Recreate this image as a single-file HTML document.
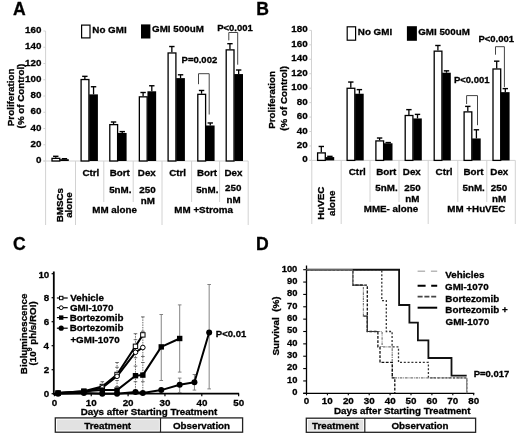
<!DOCTYPE html>
<html><head><meta charset="utf-8"><style>
html,body{margin:0;padding:0;background:#fff;width:520px;height:434px;overflow:hidden}
svg{display:block;will-change:transform}
text{font-family:"Liberation Sans", sans-serif;font-weight:bold;white-space:pre;stroke:#000;stroke-width:0.3px}
</style></head><body>
<svg width="520" height="434" viewBox="0 0 520 434" font-family='"Liberation Sans", sans-serif' font-weight="bold">
<rect x="0" y="0" width="520" height="434" fill="#fff"/>
<text x="12.96" y="14.50" font-size="17.6" fill="#000" >A</text>
<line x1="45.60" y1="31.00" x2="45.60" y2="161.00" stroke="#d2d2d2" stroke-width="1" />
<line x1="43.40" y1="161.00" x2="45.60" y2="161.00" stroke="#d2d2d2" stroke-width="1" />
<text x="35.95" y="163.00" font-size="9.8" fill="#000" >0</text>
<line x1="43.40" y1="144.75" x2="45.60" y2="144.75" stroke="#d2d2d2" stroke-width="1" />
<text x="30.50" y="146.75" font-size="9.8" fill="#000" >20</text>
<line x1="43.40" y1="128.50" x2="45.60" y2="128.50" stroke="#d2d2d2" stroke-width="1" />
<text x="30.50" y="130.50" font-size="9.8" fill="#000" >40</text>
<line x1="43.40" y1="112.25" x2="45.60" y2="112.25" stroke="#d2d2d2" stroke-width="1" />
<text x="30.50" y="114.25" font-size="9.8" fill="#000" >60</text>
<line x1="43.40" y1="96.00" x2="45.60" y2="96.00" stroke="#d2d2d2" stroke-width="1" />
<text x="30.50" y="98.00" font-size="9.8" fill="#000" >80</text>
<line x1="43.40" y1="79.75" x2="45.60" y2="79.75" stroke="#d2d2d2" stroke-width="1" />
<text x="25.05" y="81.75" font-size="9.8" fill="#000" >100</text>
<line x1="43.40" y1="63.50" x2="45.60" y2="63.50" stroke="#d2d2d2" stroke-width="1" />
<text x="25.05" y="65.50" font-size="9.8" fill="#000" >120</text>
<line x1="43.40" y1="47.25" x2="45.60" y2="47.25" stroke="#d2d2d2" stroke-width="1" />
<text x="25.05" y="49.25" font-size="9.8" fill="#000" >140</text>
<line x1="43.40" y1="31.00" x2="45.60" y2="31.00" stroke="#d2d2d2" stroke-width="1" />
<text x="25.05" y="33.00" font-size="9.8" fill="#000" >160</text>
<line x1="43.40" y1="161.00" x2="248.20" y2="161.00" stroke="#d2d2d2" stroke-width="1" />
<rect x="52.00" y="158.35" width="7.80" height="2.65" fill="#fff" stroke="#000" stroke-width="1.3"/>
<rect x="60.10" y="159.21" width="8.70" height="1.79" fill="#000" stroke="none" stroke-width="1"/>
<line x1="55.75" y1="156.29" x2="55.75" y2="157.75" stroke="#000" stroke-width="1.3" />
<line x1="53.05" y1="156.29" x2="58.45" y2="156.29" stroke="#000" stroke-width="1.4" />
<line x1="64.45" y1="158.72" x2="64.45" y2="159.21" stroke="#000" stroke-width="1.3" />
<line x1="61.75" y1="158.72" x2="67.15" y2="158.72" stroke="#000" stroke-width="1.4" />
<rect x="81.10" y="79.54" width="7.80" height="81.46" fill="#fff" stroke="#000" stroke-width="1.3"/>
<rect x="89.20" y="94.38" width="8.70" height="66.62" fill="#000" stroke="none" stroke-width="1"/>
<line x1="84.85" y1="76.34" x2="84.85" y2="78.94" stroke="#000" stroke-width="1.3" />
<line x1="82.15" y1="76.34" x2="87.55" y2="76.34" stroke="#000" stroke-width="1.4" />
<line x1="93.55" y1="86.74" x2="93.55" y2="94.38" stroke="#000" stroke-width="1.3" />
<line x1="90.85" y1="86.74" x2="96.25" y2="86.74" stroke="#000" stroke-width="1.4" />
<rect x="109.80" y="124.63" width="7.80" height="36.37" fill="#fff" stroke="#000" stroke-width="1.3"/>
<rect x="117.90" y="132.97" width="8.70" height="28.03" fill="#000" stroke="none" stroke-width="1"/>
<line x1="113.55" y1="122.00" x2="113.55" y2="124.03" stroke="#000" stroke-width="1.3" />
<line x1="110.85" y1="122.00" x2="116.25" y2="122.00" stroke="#000" stroke-width="1.4" />
<line x1="122.25" y1="131.59" x2="122.25" y2="132.97" stroke="#000" stroke-width="1.3" />
<line x1="119.55" y1="131.59" x2="124.95" y2="131.59" stroke="#000" stroke-width="1.4" />
<rect x="139.35" y="96.84" width="7.80" height="64.16" fill="#fff" stroke="#000" stroke-width="1.3"/>
<rect x="147.45" y="91.29" width="8.70" height="69.71" fill="#000" stroke="none" stroke-width="1"/>
<line x1="143.10" y1="92.51" x2="143.10" y2="96.24" stroke="#000" stroke-width="1.3" />
<line x1="140.40" y1="92.51" x2="145.80" y2="92.51" stroke="#000" stroke-width="1.4" />
<line x1="151.80" y1="85.76" x2="151.80" y2="91.29" stroke="#000" stroke-width="1.3" />
<line x1="149.10" y1="85.76" x2="154.50" y2="85.76" stroke="#000" stroke-width="1.4" />
<rect x="168.10" y="52.97" width="7.80" height="108.03" fill="#fff" stroke="#000" stroke-width="1.3"/>
<rect x="176.20" y="78.12" width="8.70" height="82.88" fill="#000" stroke="none" stroke-width="1"/>
<line x1="171.85" y1="46.52" x2="171.85" y2="52.37" stroke="#000" stroke-width="1.3" />
<line x1="169.15" y1="46.52" x2="174.55" y2="46.52" stroke="#000" stroke-width="1.4" />
<line x1="180.55" y1="74.79" x2="180.55" y2="78.12" stroke="#000" stroke-width="1.3" />
<line x1="177.85" y1="74.79" x2="183.25" y2="74.79" stroke="#000" stroke-width="1.4" />
<rect x="197.80" y="94.32" width="7.80" height="66.68" fill="#fff" stroke="#000" stroke-width="1.3"/>
<rect x="205.90" y="125.49" width="8.70" height="35.51" fill="#000" stroke="none" stroke-width="1"/>
<line x1="201.55" y1="90.47" x2="201.55" y2="93.72" stroke="#000" stroke-width="1.3" />
<line x1="198.85" y1="90.47" x2="204.25" y2="90.47" stroke="#000" stroke-width="1.4" />
<line x1="210.25" y1="122.97" x2="210.25" y2="125.49" stroke="#000" stroke-width="1.3" />
<line x1="207.55" y1="122.97" x2="212.95" y2="122.97" stroke="#000" stroke-width="1.4" />
<rect x="226.20" y="49.88" width="7.80" height="111.12" fill="#fff" stroke="#000" stroke-width="1.3"/>
<rect x="234.30" y="74.06" width="8.70" height="86.94" fill="#000" stroke="none" stroke-width="1"/>
<line x1="229.95" y1="43.67" x2="229.95" y2="49.28" stroke="#000" stroke-width="1.3" />
<line x1="227.25" y1="43.67" x2="232.65" y2="43.67" stroke="#000" stroke-width="1.4" />
<line x1="238.65" y1="70.00" x2="238.65" y2="74.06" stroke="#000" stroke-width="1.3" />
<line x1="235.95" y1="70.00" x2="241.35" y2="70.00" stroke="#000" stroke-width="1.4" />
<line x1="45.60" y1="161.00" x2="45.60" y2="225.00" stroke="#d2d2d2" stroke-width="1" />
<line x1="75.50" y1="161.00" x2="75.50" y2="225.00" stroke="#d2d2d2" stroke-width="1" />
<line x1="103.80" y1="161.00" x2="103.80" y2="202.00" stroke="#d2d2d2" stroke-width="1" />
<line x1="133.20" y1="161.00" x2="133.20" y2="202.00" stroke="#d2d2d2" stroke-width="1" />
<line x1="162.00" y1="161.00" x2="162.00" y2="225.00" stroke="#d2d2d2" stroke-width="1" />
<line x1="191.60" y1="161.00" x2="191.60" y2="202.00" stroke="#d2d2d2" stroke-width="1" />
<line x1="219.60" y1="161.00" x2="219.60" y2="202.00" stroke="#d2d2d2" stroke-width="1" />
<line x1="248.20" y1="161.00" x2="248.20" y2="225.00" stroke="#d2d2d2" stroke-width="1" />
<text x="256.32" y="14.80" font-size="17.6" fill="#000" >B</text>
<line x1="311.50" y1="30.40" x2="311.50" y2="160.40" stroke="#d2d2d2" stroke-width="1" />
<line x1="309.30" y1="160.40" x2="311.50" y2="160.40" stroke="#d2d2d2" stroke-width="1" />
<text x="302.25" y="162.40" font-size="9.8" fill="#000" >0</text>
<line x1="309.30" y1="145.96" x2="311.50" y2="145.96" stroke="#d2d2d2" stroke-width="1" />
<text x="296.80" y="147.96" font-size="9.8" fill="#000" >20</text>
<line x1="309.30" y1="131.51" x2="311.50" y2="131.51" stroke="#d2d2d2" stroke-width="1" />
<text x="296.80" y="133.51" font-size="9.8" fill="#000" >40</text>
<line x1="309.30" y1="117.07" x2="311.50" y2="117.07" stroke="#d2d2d2" stroke-width="1" />
<text x="296.80" y="119.07" font-size="9.8" fill="#000" >60</text>
<line x1="309.30" y1="102.62" x2="311.50" y2="102.62" stroke="#d2d2d2" stroke-width="1" />
<text x="296.80" y="104.62" font-size="9.8" fill="#000" >80</text>
<line x1="309.30" y1="88.18" x2="311.50" y2="88.18" stroke="#d2d2d2" stroke-width="1" />
<text x="291.35" y="90.18" font-size="9.8" fill="#000" >100</text>
<line x1="309.30" y1="73.73" x2="311.50" y2="73.73" stroke="#d2d2d2" stroke-width="1" />
<text x="291.35" y="75.73" font-size="9.8" fill="#000" >120</text>
<line x1="309.30" y1="59.29" x2="311.50" y2="59.29" stroke="#d2d2d2" stroke-width="1" />
<text x="291.35" y="61.29" font-size="9.8" fill="#000" >140</text>
<line x1="309.30" y1="44.84" x2="311.50" y2="44.84" stroke="#d2d2d2" stroke-width="1" />
<text x="291.35" y="46.84" font-size="9.8" fill="#000" >160</text>
<line x1="309.30" y1="30.40" x2="311.50" y2="30.40" stroke="#d2d2d2" stroke-width="1" />
<text x="291.35" y="32.40" font-size="9.8" fill="#000" >180</text>
<line x1="309.30" y1="160.40" x2="515.30" y2="160.40" stroke="#d2d2d2" stroke-width="1" />
<rect x="317.60" y="152.91" width="7.70" height="7.49" fill="#fff" stroke="#000" stroke-width="1.3"/>
<rect x="325.60" y="157.08" width="8.60" height="3.32" fill="#000" stroke="none" stroke-width="1"/>
<line x1="321.30" y1="146.46" x2="321.30" y2="152.31" stroke="#000" stroke-width="1.3" />
<line x1="318.60" y1="146.46" x2="324.00" y2="146.46" stroke="#000" stroke-width="1.4" />
<line x1="329.90" y1="156.36" x2="329.90" y2="157.08" stroke="#000" stroke-width="1.3" />
<line x1="327.20" y1="156.36" x2="332.60" y2="156.36" stroke="#000" stroke-width="1.4" />
<rect x="347.10" y="88.27" width="7.70" height="72.13" fill="#fff" stroke="#000" stroke-width="1.3"/>
<rect x="355.10" y="93.74" width="8.60" height="66.66" fill="#000" stroke="none" stroke-width="1"/>
<line x1="350.80" y1="82.04" x2="350.80" y2="87.67" stroke="#000" stroke-width="1.3" />
<line x1="348.10" y1="82.04" x2="353.50" y2="82.04" stroke="#000" stroke-width="1.4" />
<line x1="359.40" y1="89.62" x2="359.40" y2="93.74" stroke="#000" stroke-width="1.3" />
<line x1="356.70" y1="89.62" x2="362.10" y2="89.62" stroke="#000" stroke-width="1.4" />
<rect x="375.90" y="140.92" width="7.70" height="19.48" fill="#fff" stroke="#000" stroke-width="1.3"/>
<rect x="383.90" y="143.28" width="8.60" height="17.12" fill="#000" stroke="none" stroke-width="1"/>
<line x1="379.60" y1="138.01" x2="379.60" y2="140.32" stroke="#000" stroke-width="1.3" />
<line x1="376.90" y1="138.01" x2="382.30" y2="138.01" stroke="#000" stroke-width="1.4" />
<line x1="388.20" y1="142.56" x2="388.20" y2="143.28" stroke="#000" stroke-width="1.3" />
<line x1="385.50" y1="142.56" x2="390.90" y2="142.56" stroke="#000" stroke-width="1.4" />
<rect x="405.20" y="115.50" width="7.70" height="44.90" fill="#fff" stroke="#000" stroke-width="1.3"/>
<rect x="413.20" y="118.44" width="8.60" height="41.96" fill="#000" stroke="none" stroke-width="1"/>
<line x1="408.90" y1="109.63" x2="408.90" y2="114.90" stroke="#000" stroke-width="1.3" />
<line x1="406.20" y1="109.63" x2="411.60" y2="109.63" stroke="#000" stroke-width="1.4" />
<line x1="417.50" y1="114.39" x2="417.50" y2="118.44" stroke="#000" stroke-width="1.3" />
<line x1="414.80" y1="114.39" x2="420.20" y2="114.39" stroke="#000" stroke-width="1.4" />
<rect x="434.20" y="51.15" width="7.70" height="109.25" fill="#fff" stroke="#000" stroke-width="1.3"/>
<rect x="442.20" y="72.72" width="8.60" height="87.68" fill="#000" stroke="none" stroke-width="1"/>
<line x1="437.90" y1="45.49" x2="437.90" y2="50.55" stroke="#000" stroke-width="1.3" />
<line x1="435.20" y1="45.49" x2="440.60" y2="45.49" stroke="#000" stroke-width="1.4" />
<line x1="446.50" y1="70.84" x2="446.50" y2="72.72" stroke="#000" stroke-width="1.3" />
<line x1="443.80" y1="70.84" x2="449.20" y2="70.84" stroke="#000" stroke-width="1.4" />
<rect x="464.10" y="111.89" width="7.70" height="48.51" fill="#fff" stroke="#000" stroke-width="1.3"/>
<rect x="472.10" y="138.44" width="8.60" height="21.96" fill="#000" stroke="none" stroke-width="1"/>
<line x1="467.80" y1="106.38" x2="467.80" y2="111.29" stroke="#000" stroke-width="1.3" />
<line x1="465.10" y1="106.38" x2="470.50" y2="106.38" stroke="#000" stroke-width="1.4" />
<line x1="476.40" y1="129.78" x2="476.40" y2="138.44" stroke="#000" stroke-width="1.3" />
<line x1="473.70" y1="129.78" x2="479.10" y2="129.78" stroke="#000" stroke-width="1.4" />
<rect x="493.00" y="68.99" width="7.70" height="91.41" fill="#fff" stroke="#000" stroke-width="1.3"/>
<rect x="501.00" y="92.15" width="8.60" height="68.25" fill="#000" stroke="none" stroke-width="1"/>
<line x1="496.70" y1="61.17" x2="496.70" y2="68.39" stroke="#000" stroke-width="1.3" />
<line x1="494.00" y1="61.17" x2="499.40" y2="61.17" stroke="#000" stroke-width="1.4" />
<line x1="505.30" y1="88.61" x2="505.30" y2="92.15" stroke="#000" stroke-width="1.3" />
<line x1="502.60" y1="88.61" x2="508.00" y2="88.61" stroke="#000" stroke-width="1.4" />
<line x1="311.80" y1="160.40" x2="311.80" y2="224.00" stroke="#d2d2d2" stroke-width="1" />
<line x1="341.20" y1="160.40" x2="341.20" y2="224.00" stroke="#d2d2d2" stroke-width="1" />
<line x1="370.00" y1="160.40" x2="370.00" y2="202.00" stroke="#d2d2d2" stroke-width="1" />
<line x1="399.00" y1="160.40" x2="399.00" y2="202.00" stroke="#d2d2d2" stroke-width="1" />
<line x1="428.20" y1="160.40" x2="428.20" y2="224.00" stroke="#d2d2d2" stroke-width="1" />
<line x1="457.80" y1="160.40" x2="457.80" y2="202.00" stroke="#d2d2d2" stroke-width="1" />
<line x1="486.80" y1="160.40" x2="486.80" y2="202.00" stroke="#d2d2d2" stroke-width="1" />
<line x1="515.30" y1="160.40" x2="515.30" y2="224.00" stroke="#d2d2d2" stroke-width="1" />
<rect x="81.60" y="25.10" width="8.40" height="12.80" fill="#fff" stroke="#000" stroke-width="1.2"/>
<text x="92.34" y="32.70" font-size="9.8" fill="#000" >No GMI</text>
<rect x="141.00" y="24.40" width="9.40" height="14.10" fill="#000" stroke="none" stroke-width="1"/>
<text x="152.10" y="32.20" font-size="9.8" fill="#000" >GMI 500uM</text>
<rect x="347.20" y="26.80" width="8.40" height="13.40" fill="#fff" stroke="#000" stroke-width="1.2"/>
<text x="357.84" y="34.70" font-size="9.8" fill="#000" >No GMI</text>
<rect x="406.90" y="26.20" width="10.00" height="14.60" fill="#000" stroke="none" stroke-width="1"/>
<text x="418.20" y="34.70" font-size="9.8" fill="#000" >GMI 500uM</text>
<path d="M198.5,84.2 V73.7 H209.2 V114.5" stroke="#444" stroke-width="1" fill="none" />
<path d="M228.8,40.4 V32.5 H237.7 V64.7" stroke="#444" stroke-width="1" fill="none" />
<path d="M466.6,104.0 V95.6 H477.5 V125.2" stroke="#444" stroke-width="1" fill="none" />
<path d="M495.5,54.7 V46.7 H504.4 V87.1" stroke="#444" stroke-width="1" fill="none" />
<text x="181.56" y="62.90" font-size="9.5" fill="#000" >P=0.002</text>
<text x="217.16" y="31.30" font-size="9.5" fill="#000" >P&lt;0.001</text>
<text x="478.46" y="41.90" font-size="9.5" fill="#000" >P&lt;0.001</text>
<text x="453.96" y="83.40" font-size="9.5" fill="#000" >P&lt;0.001</text>
<text transform="translate(13.60,97.30) rotate(-90)" x="-28.88" y="0" font-size="9.8" fill="#000">Proliferation</text>
<text transform="translate(24.30,96.00) rotate(-90)" x="-32.39" y="0" font-size="9.8" fill="#000">(% of Control)</text>
<text transform="translate(275.00,99.90) rotate(-90)" x="-28.88" y="0" font-size="9.8" fill="#000">Proliferation</text>
<text transform="translate(286.50,98.30) rotate(-90)" x="-32.39" y="0" font-size="9.8" fill="#000">(% of Control)</text>
<text x="82.41" y="176.20" font-size="9.8" fill="#000" >Ctrl</text>
<text x="109.66" y="176.20" font-size="9.8" fill="#000" >Bort</text>
<text x="137.82" y="176.20" font-size="9.8" fill="#000" >Dex</text>
<text x="169.21" y="176.20" font-size="9.8" fill="#000" >Ctrl</text>
<text x="196.96" y="176.20" font-size="9.8" fill="#000" >Bort</text>
<text x="224.52" y="176.20" font-size="9.8" fill="#000" >Dex</text>
<text x="109.13" y="192.60" font-size="9.8" fill="#000" >5nM.</text>
<text x="139.36" y="193.00" font-size="9.8" fill="#000" >250</text>
<text x="140.68" y="203.70" font-size="9.8" fill="#000" >nM</text>
<text x="196.13" y="192.60" font-size="9.8" fill="#000" >5nM.</text>
<text x="225.11" y="191.30" font-size="9.8" fill="#000" >250</text>
<text x="226.43" y="203.00" font-size="9.8" fill="#000" >nM</text>
<text x="92.22" y="213.20" font-size="9.8" fill="#000" >MM alone</text>
<text x="174.37" y="213.30" font-size="9.8" fill="#000" >MM +Stroma</text>
<text transform="translate(62.60,205.00) rotate(-90)" x="-17.28" y="0" font-size="9.8" fill="#000">BMSCs</text>
<text transform="translate(72.30,205.10) rotate(-90)" x="-12.77" y="0" font-size="9.8" fill="#000">alone</text>
<text x="348.81" y="175.30" font-size="9.8" fill="#000" >Ctrl</text>
<text x="376.26" y="175.30" font-size="9.8" fill="#000" >Bort</text>
<text x="402.82" y="175.30" font-size="9.8" fill="#000" >Dex</text>
<text x="435.61" y="175.30" font-size="9.8" fill="#000" >Ctrl</text>
<text x="463.46" y="175.30" font-size="9.8" fill="#000" >Bort</text>
<text x="490.32" y="175.30" font-size="9.8" fill="#000" >Dex</text>
<text x="375.33" y="190.90" font-size="9.8" fill="#000" >5nM.</text>
<text x="404.26" y="190.90" font-size="9.8" fill="#000" >250</text>
<text x="405.33" y="202.20" font-size="9.8" fill="#000" >nM</text>
<text x="462.53" y="190.90" font-size="9.8" fill="#000" >5nM.</text>
<text x="490.76" y="190.90" font-size="9.8" fill="#000" >250</text>
<text x="491.93" y="202.20" font-size="9.8" fill="#000" >nM</text>
<text x="363.72" y="212.00" font-size="9.8" fill="#000" >MME- alone</text>
<text x="447.31" y="212.00" font-size="9.8" fill="#000" >MM +HuVEC</text>
<text transform="translate(323.70,203.00) rotate(-90)" x="-16.80" y="0" font-size="9.8" fill="#000">HuVEC</text>
<text transform="translate(335.20,203.30) rotate(-90)" x="-12.77" y="0" font-size="9.8" fill="#000">alone</text>
<text x="13.08" y="250.30" font-size="17.6" fill="#000" >C</text>
<line x1="53.80" y1="271.50" x2="53.80" y2="394.70" stroke="#000" stroke-width="1.8" />
<line x1="53.00" y1="393.70" x2="239.15" y2="393.70" stroke="#000" stroke-width="1.8" />
<line x1="51.60" y1="393.70" x2="53.80" y2="393.70" stroke="#000" stroke-width="1.2" />
<text x="43.85" y="397.10" font-size="9.8" fill="#000" >0</text>
<line x1="51.60" y1="369.70" x2="53.80" y2="369.70" stroke="#000" stroke-width="1.2" />
<text x="43.84" y="373.10" font-size="9.8" fill="#000" >2</text>
<line x1="51.60" y1="345.70" x2="53.80" y2="345.70" stroke="#000" stroke-width="1.2" />
<text x="43.50" y="349.10" font-size="9.8" fill="#000" >4</text>
<line x1="51.60" y1="321.70" x2="53.80" y2="321.70" stroke="#000" stroke-width="1.2" />
<text x="43.80" y="325.10" font-size="9.8" fill="#000" >6</text>
<line x1="51.60" y1="297.70" x2="53.80" y2="297.70" stroke="#000" stroke-width="1.2" />
<text x="43.75" y="301.10" font-size="9.8" fill="#000" >8</text>
<line x1="51.60" y1="273.70" x2="53.80" y2="273.70" stroke="#000" stroke-width="1.2" />
<text x="38.40" y="278.30" font-size="9.8" fill="#000" >10</text>
<line x1="54.40" y1="393.70" x2="54.40" y2="396.20" stroke="#000" stroke-width="1.2" />
<text x="51.68" y="405.60" font-size="9.8" fill="#000" >0</text>
<line x1="91.25" y1="393.70" x2="91.25" y2="396.20" stroke="#000" stroke-width="1.2" />
<text x="85.69" y="405.60" font-size="9.8" fill="#000" >10</text>
<line x1="128.10" y1="393.70" x2="128.10" y2="396.20" stroke="#000" stroke-width="1.2" />
<text x="122.68" y="405.60" font-size="9.8" fill="#000" >20</text>
<line x1="164.95" y1="393.70" x2="164.95" y2="396.20" stroke="#000" stroke-width="1.2" />
<text x="159.59" y="405.60" font-size="9.8" fill="#000" >30</text>
<line x1="201.80" y1="393.70" x2="201.80" y2="396.20" stroke="#000" stroke-width="1.2" />
<text x="196.48" y="405.60" font-size="9.8" fill="#000" >40</text>
<line x1="238.65" y1="393.70" x2="238.65" y2="396.20" stroke="#000" stroke-width="1.2" />
<text x="233.25" y="405.60" font-size="9.8" fill="#000" >50</text>
<text x="80.64" y="415.00" font-size="9.8" fill="#000" >Days after Starting Treatment</text>
<rect x="55.30" y="417.90" width="187.30" height="14.30" fill="#fff" stroke="#222" stroke-width="1.3"/>
<line x1="160.50" y1="417.90" x2="160.50" y2="432.20" stroke="#222" stroke-width="1.2" />
<rect x="57.00" y="419.60" width="101.90" height="10.90" fill="#e2e2e2" stroke="none" stroke-width="1"/>
<text x="84.32" y="428.60" font-size="9.8" fill="#000" >Treatment</text>
<text x="172.91" y="428.70" font-size="9.8" fill="#000" >Observation</text>
<text transform="translate(27.00,333.70) rotate(-90)" x="-40.46" y="0" font-size="9.8" fill="#000">Bioluminescence</text>
<g transform="translate(35.6,328.9) rotate(-90)"><text x="-36.6" y="0" font-size="9.8">(10<tspan font-size="6.8" dy="-3.4">9</tspan><tspan dy="3.4"> ph/s/ROI)</tspan></text></g>
<line x1="102.31" y1="381.70" x2="102.31" y2="392.50" stroke="#5a5a5a" stroke-width="0.9" stroke-dasharray="1.5,1"/>
<line x1="100.51" y1="381.70" x2="104.11" y2="381.70" stroke="#5a5a5a" stroke-width="0.9" />
<line x1="100.51" y1="392.50" x2="104.11" y2="392.50" stroke="#5a5a5a" stroke-width="0.9" />
<line x1="117.05" y1="362.50" x2="117.05" y2="391.30" stroke="#5a5a5a" stroke-width="0.9" stroke-dasharray="1.5,1"/>
<line x1="115.25" y1="362.50" x2="118.84" y2="362.50" stroke="#5a5a5a" stroke-width="0.9" />
<line x1="115.25" y1="391.30" x2="118.84" y2="391.30" stroke="#5a5a5a" stroke-width="0.9" />
<line x1="115.25" y1="367.30" x2="118.84" y2="367.30" stroke="#5a5a5a" stroke-width="0.9" />
<line x1="115.25" y1="386.50" x2="118.84" y2="386.50" stroke="#5a5a5a" stroke-width="0.9" />
<line x1="115.25" y1="380.50" x2="118.84" y2="380.50" stroke="#5a5a5a" stroke-width="0.9" />
<line x1="135.47" y1="333.70" x2="135.47" y2="392.50" stroke="#5a5a5a" stroke-width="0.9" stroke-dasharray="1.5,1"/>
<line x1="133.67" y1="333.70" x2="137.27" y2="333.70" stroke="#5a5a5a" stroke-width="0.9" />
<line x1="133.67" y1="392.50" x2="137.27" y2="392.50" stroke="#5a5a5a" stroke-width="0.9" />
<line x1="133.67" y1="339.70" x2="137.27" y2="339.70" stroke="#5a5a5a" stroke-width="0.9" />
<line x1="133.67" y1="357.70" x2="137.27" y2="357.70" stroke="#5a5a5a" stroke-width="0.9" />
<line x1="133.67" y1="366.10" x2="137.27" y2="366.10" stroke="#5a5a5a" stroke-width="0.9" />
<line x1="133.67" y1="381.70" x2="137.27" y2="381.70" stroke="#5a5a5a" stroke-width="0.9" />
<line x1="142.84" y1="316.90" x2="142.84" y2="392.50" stroke="#5a5a5a" stroke-width="0.9" stroke-dasharray="1.5,1"/>
<line x1="141.04" y1="316.90" x2="144.64" y2="316.90" stroke="#5a5a5a" stroke-width="0.9" />
<line x1="141.04" y1="392.50" x2="144.64" y2="392.50" stroke="#5a5a5a" stroke-width="0.9" />
<line x1="141.04" y1="331.30" x2="144.64" y2="331.30" stroke="#5a5a5a" stroke-width="0.9" />
<line x1="141.04" y1="356.50" x2="144.64" y2="356.50" stroke="#5a5a5a" stroke-width="0.9" />
<line x1="141.04" y1="362.50" x2="144.64" y2="362.50" stroke="#5a5a5a" stroke-width="0.9" />
<line x1="141.04" y1="381.70" x2="144.64" y2="381.70" stroke="#5a5a5a" stroke-width="0.9" />
<line x1="161.26" y1="314.50" x2="161.26" y2="380.50" stroke="#777" stroke-width="0.9" />
<line x1="159.46" y1="314.50" x2="163.06" y2="314.50" stroke="#777" stroke-width="0.9" />
<line x1="159.46" y1="380.50" x2="163.06" y2="380.50" stroke="#777" stroke-width="0.9" />
<line x1="179.69" y1="304.90" x2="179.69" y2="372.10" stroke="#777" stroke-width="0.9" />
<line x1="177.89" y1="304.90" x2="181.49" y2="304.90" stroke="#777" stroke-width="0.9" />
<line x1="177.89" y1="372.10" x2="181.49" y2="372.10" stroke="#777" stroke-width="0.9" />
<line x1="179.69" y1="378.10" x2="179.69" y2="392.50" stroke="#777" stroke-width="0.9" />
<line x1="177.89" y1="378.10" x2="181.49" y2="378.10" stroke="#777" stroke-width="0.9" />
<line x1="177.89" y1="392.50" x2="181.49" y2="392.50" stroke="#777" stroke-width="0.9" />
<line x1="194.43" y1="374.50" x2="194.43" y2="390.10" stroke="#777" stroke-width="0.9" />
<line x1="192.63" y1="374.50" x2="196.23" y2="374.50" stroke="#777" stroke-width="0.9" />
<line x1="192.63" y1="390.10" x2="196.23" y2="390.10" stroke="#777" stroke-width="0.9" />
<line x1="209.17" y1="284.50" x2="209.17" y2="388.90" stroke="#777" stroke-width="0.9" />
<line x1="207.37" y1="284.50" x2="210.97" y2="284.50" stroke="#777" stroke-width="0.9" />
<line x1="207.37" y1="388.90" x2="210.97" y2="388.90" stroke="#777" stroke-width="0.9" />
<polyline points="58.09,393.10 83.88,391.30 102.31,386.50 117.05,374.50 135.47,346.30 142.84,334.90" fill="none" stroke="#000" stroke-width="2.0" stroke-linejoin="round"/>
<polyline points="58.09,393.10 83.88,391.90 102.31,387.70 117.05,376.30 135.47,352.30 142.84,347.50" fill="none" stroke="#000" stroke-width="2.0" stroke-linejoin="round"/>
<polyline points="58.09,393.10 83.88,391.30 102.31,390.10 117.05,390.10 135.47,375.70 142.84,375.10 161.26,346.90 179.69,338.50" fill="none" stroke="#000" stroke-width="2.0" stroke-linejoin="round"/>
<polyline points="58.09,393.70 83.88,393.10 102.31,393.70 117.05,393.70 135.47,391.90 142.84,393.10 161.26,390.10 179.69,384.70 194.43,382.30 209.17,332.50" fill="none" stroke="#000" stroke-width="2.0" stroke-linejoin="round"/>
<rect x="55.88" y="390.90" width="4.40" height="4.40" fill="#fff" stroke="#000" stroke-width="1"/>
<rect x="81.68" y="389.10" width="4.40" height="4.40" fill="#fff" stroke="#000" stroke-width="1"/>
<rect x="100.11" y="384.30" width="4.40" height="4.40" fill="#fff" stroke="#000" stroke-width="1"/>
<rect x="114.84" y="372.30" width="4.40" height="4.40" fill="#fff" stroke="#000" stroke-width="1"/>
<rect x="133.27" y="344.10" width="4.40" height="4.40" fill="#fff" stroke="#000" stroke-width="1"/>
<rect x="140.64" y="332.70" width="4.40" height="4.40" fill="#fff" stroke="#000" stroke-width="1"/>
<circle cx="58.09" cy="393.10" r="2.3" fill="#fff" stroke="#000" stroke-width="1"/>
<circle cx="83.88" cy="391.90" r="2.3" fill="#fff" stroke="#000" stroke-width="1"/>
<circle cx="102.31" cy="387.70" r="2.3" fill="#fff" stroke="#000" stroke-width="1"/>
<circle cx="117.05" cy="376.30" r="2.3" fill="#fff" stroke="#000" stroke-width="1"/>
<circle cx="135.47" cy="352.30" r="2.3" fill="#fff" stroke="#000" stroke-width="1"/>
<circle cx="142.84" cy="347.50" r="2.3" fill="#fff" stroke="#000" stroke-width="1"/>
<circle cx="58.09" cy="393.70" r="3.0" fill="#000"/>
<circle cx="83.88" cy="393.10" r="3.0" fill="#000"/>
<circle cx="102.31" cy="393.70" r="3.0" fill="#000"/>
<circle cx="117.05" cy="393.70" r="3.0" fill="#000"/>
<circle cx="135.47" cy="391.90" r="3.0" fill="#000"/>
<circle cx="142.84" cy="393.10" r="3.0" fill="#000"/>
<circle cx="161.26" cy="390.10" r="3.0" fill="#000"/>
<circle cx="179.69" cy="384.70" r="3.0" fill="#000"/>
<circle cx="194.43" cy="382.30" r="3.0" fill="#000"/>
<circle cx="209.17" cy="332.50" r="3.0" fill="#000"/>
<rect x="55.38" y="390.40" width="5.40" height="5.40" fill="#000" stroke="none" stroke-width="1"/>
<rect x="81.18" y="388.60" width="5.40" height="5.40" fill="#000" stroke="none" stroke-width="1"/>
<rect x="99.61" y="387.40" width="5.40" height="5.40" fill="#000" stroke="none" stroke-width="1"/>
<rect x="114.34" y="387.40" width="5.40" height="5.40" fill="#000" stroke="none" stroke-width="1"/>
<rect x="132.77" y="373.00" width="5.40" height="5.40" fill="#000" stroke="none" stroke-width="1"/>
<rect x="140.14" y="372.40" width="5.40" height="5.40" fill="#000" stroke="none" stroke-width="1"/>
<rect x="158.56" y="344.20" width="5.40" height="5.40" fill="#000" stroke="none" stroke-width="1"/>
<rect x="176.99" y="335.80" width="5.40" height="5.40" fill="#000" stroke="none" stroke-width="1"/>
<text x="215.86" y="337.40" font-size="9.5" fill="#000" >P&lt;0.01</text>
<line x1="56.90" y1="298.00" x2="67.70" y2="298.00" stroke="#000" stroke-width="1.2" />
<rect x="59.50" y="296.30" width="3.40" height="3.40" fill="#fff" stroke="#000" stroke-width="1"/>
<line x1="56.90" y1="307.70" x2="67.70" y2="307.70" stroke="#000" stroke-width="1.2" />
<circle cx="61.20" cy="307.70" r="1.9" fill="#fff" stroke="#000" stroke-width="1"/>
<line x1="56.90" y1="317.60" x2="67.70" y2="317.60" stroke="#000" stroke-width="1.2" />
<rect x="59.00" y="315.40" width="4.40" height="4.40" fill="#000" stroke="none" stroke-width="1"/>
<line x1="56.90" y1="328.20" x2="67.70" y2="328.20" stroke="#000" stroke-width="1.2" />
<circle cx="61.20" cy="328.20" r="2.6" fill="#000"/>
<text x="70.23" y="301.20" font-size="9.8" fill="#000" >Vehicle</text>
<text x="69.90" y="311.00" font-size="9.8" fill="#000" >GMI-1070</text>
<text x="69.64" y="320.90" font-size="9.8" fill="#000" >Bortezomib</text>
<text x="69.64" y="331.40" font-size="9.8" fill="#000" >Bortezomib</text>
<text x="70.39" y="343.40" font-size="9.8" fill="#000" >+GMI-1070</text>
<text x="256.02" y="250.00" font-size="17.6" fill="#000" >D</text>
<line x1="306.50" y1="265.50" x2="306.50" y2="393.30" stroke="#000" stroke-width="1.3" />
<line x1="303.20" y1="393.30" x2="474.30" y2="393.30" stroke="#000" stroke-width="1.2" />
<line x1="303.20" y1="393.30" x2="306.50" y2="393.30" stroke="#000" stroke-width="1.1" />
<text x="292.16" y="395.20" font-size="9.4" fill="#000" >0</text>
<line x1="303.20" y1="380.94" x2="306.50" y2="380.94" stroke="#000" stroke-width="1.1" />
<text x="286.93" y="382.84" font-size="9.4" fill="#000" >10</text>
<line x1="303.20" y1="368.58" x2="306.50" y2="368.58" stroke="#000" stroke-width="1.1" />
<text x="286.93" y="370.48" font-size="9.4" fill="#000" >20</text>
<line x1="303.20" y1="356.22" x2="306.50" y2="356.22" stroke="#000" stroke-width="1.1" />
<text x="286.93" y="358.12" font-size="9.4" fill="#000" >30</text>
<line x1="303.20" y1="343.86" x2="306.50" y2="343.86" stroke="#000" stroke-width="1.1" />
<text x="286.93" y="345.76" font-size="9.4" fill="#000" >40</text>
<line x1="303.20" y1="331.50" x2="306.50" y2="331.50" stroke="#000" stroke-width="1.1" />
<text x="286.93" y="333.40" font-size="9.4" fill="#000" >50</text>
<line x1="303.20" y1="319.14" x2="306.50" y2="319.14" stroke="#000" stroke-width="1.1" />
<text x="286.93" y="321.04" font-size="9.4" fill="#000" >60</text>
<line x1="303.20" y1="306.78" x2="306.50" y2="306.78" stroke="#000" stroke-width="1.1" />
<text x="286.93" y="308.68" font-size="9.4" fill="#000" >70</text>
<line x1="303.20" y1="294.42" x2="306.50" y2="294.42" stroke="#000" stroke-width="1.1" />
<text x="286.93" y="296.32" font-size="9.4" fill="#000" >80</text>
<line x1="303.20" y1="282.06" x2="306.50" y2="282.06" stroke="#000" stroke-width="1.1" />
<text x="286.93" y="283.96" font-size="9.4" fill="#000" >90</text>
<line x1="303.20" y1="269.70" x2="306.50" y2="269.70" stroke="#000" stroke-width="1.1" />
<text x="281.70" y="271.60" font-size="9.4" fill="#000" >100</text>
<line x1="306.50" y1="393.30" x2="306.50" y2="395.30" stroke="#000" stroke-width="1.1" />
<text x="303.78" y="403.70" font-size="9.8" fill="#000" >0</text>
<line x1="327.40" y1="393.30" x2="327.40" y2="395.30" stroke="#000" stroke-width="1.1" />
<text x="321.84" y="403.70" font-size="9.8" fill="#000" >10</text>
<line x1="348.30" y1="393.30" x2="348.30" y2="395.30" stroke="#000" stroke-width="1.1" />
<text x="342.88" y="403.70" font-size="9.8" fill="#000" >20</text>
<line x1="369.20" y1="393.30" x2="369.20" y2="395.30" stroke="#000" stroke-width="1.1" />
<text x="363.84" y="403.70" font-size="9.8" fill="#000" >30</text>
<line x1="390.10" y1="393.30" x2="390.10" y2="395.30" stroke="#000" stroke-width="1.1" />
<text x="384.78" y="403.70" font-size="9.8" fill="#000" >40</text>
<line x1="411.00" y1="393.30" x2="411.00" y2="395.30" stroke="#000" stroke-width="1.1" />
<text x="405.60" y="403.70" font-size="9.8" fill="#000" >50</text>
<line x1="431.90" y1="393.30" x2="431.90" y2="395.30" stroke="#000" stroke-width="1.1" />
<text x="426.47" y="403.70" font-size="9.8" fill="#000" >60</text>
<line x1="452.80" y1="393.30" x2="452.80" y2="395.30" stroke="#000" stroke-width="1.1" />
<text x="447.34" y="403.70" font-size="9.8" fill="#000" >70</text>
<line x1="473.70" y1="393.30" x2="473.70" y2="395.30" stroke="#000" stroke-width="1.1" />
<text x="468.30" y="403.70" font-size="9.8" fill="#000" >80</text>
<text x="333.94" y="414.30" font-size="9.8" fill="#000" >Days after Starting Treatment</text>
<rect x="306.30" y="418.20" width="169.30" height="14.10" fill="#fff" stroke="#222" stroke-width="1.3"/>
<line x1="364.80" y1="418.20" x2="364.80" y2="432.30" stroke="#222" stroke-width="1.2" />
<rect x="308.00" y="419.90" width="55.20" height="10.70" fill="#e2e2e2" stroke="none" stroke-width="1"/>
<text x="312.07" y="428.90" font-size="9.8" fill="#000" >Treatment</text>
<text x="391.41" y="428.90" font-size="9.8" fill="#000" >Observation</text>
<text transform="translate(278.50,326.00) rotate(-90)" x="-29.61" y="0" font-size="9.9" fill="#000">Survival  (%)</text>
<text x="473.66" y="376.50" font-size="9.5" fill="#000" >P=0.017</text>
<path d="M306.5,269.70 H399.10 V305.01 H409.40 V322.67 H417.90 V340.33 H428.40 V357.99 H451.50 V375.64 H466.70" stroke="#111" stroke-width="1.8" fill="none" />
<path d="M306.5,269.70 H381.80 V300.60 H386.30 V331.50 H392.10 V346.95 H398.50 V362.40 H428.40 V377.85 H466.70 V393.30 H466.70" stroke="#333" stroke-width="1.3" fill="none" stroke-dasharray="2,1.8"/>
<path d="M306.5,269.70 H352.80 V285.15 H363.40 V316.05 H367.30 V331.50 H382.10 V346.95 H392.20 V377.85 H466.70 V393.30 H466.70" stroke="#777" stroke-width="1.2" fill="none" stroke-dasharray="2.6,0.9,0.9,0.9"/>
<path d="M306.5,269.70 H352.80 V285.15 H367.30 V331.50 H377.90 V346.95 H380.00 V362.40 H392.30 V377.85 H394.80 V393.30 H394.80" stroke="#111" stroke-width="1.3" fill="none" stroke-dasharray="2.8,1.5"/>
<path d="M306.5,269.70 H352.8" stroke="#666" stroke-width="1.2" fill="none" />
<path d="M352.8,269.70 V285.15" stroke="#777" stroke-width="1.1" fill="none" />
<path d="M352.8,285.15 H363.4" stroke="#333" stroke-width="1.2" fill="none" />
<path d="M363.4,316.05 H367.3 V331.50 H377.9" stroke="#333" stroke-width="1.2" fill="none" />
<path d="M352.8,269.70 H399.1" stroke="#111" stroke-width="1.6" fill="none" />
<path d="M466.7,377.85 V393.30" stroke="#888" stroke-width="1.2" fill="none" />
<line x1="417.60" y1="271.20" x2="437.20" y2="271.20" stroke="#b8b8b8" stroke-width="1.5" stroke-dasharray="7.5,5.8"/>
<line x1="417.60" y1="285.70" x2="437.20" y2="285.70" stroke="#000" stroke-width="2.0" stroke-dasharray="8,5.6"/>
<line x1="417.60" y1="296.60" x2="437.20" y2="296.60" stroke="#444" stroke-width="1.6" stroke-dasharray="5,1.8"/>
<line x1="417.60" y1="307.70" x2="437.20" y2="307.70" stroke="#000" stroke-width="2.0" />
<text x="445.23" y="278.20" font-size="9.8" fill="#000" >Vehicles</text>
<text x="445.10" y="290.40" font-size="9.8" fill="#000" >GMI-1070</text>
<text x="445.34" y="301.50" font-size="9.8" fill="#000" >Bortezomib</text>
<text x="445.34" y="312.60" font-size="9.8" fill="#000" >Bortezomib +</text>
<text x="445.60" y="325.10" font-size="9.8" fill="#000" >GMI-1070</text>
</svg>
</body></html>
